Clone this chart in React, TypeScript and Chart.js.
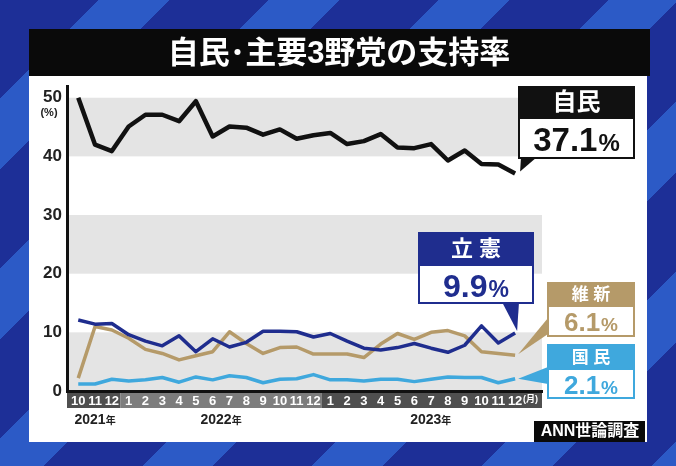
import React, { useEffect, useRef } from "react";
import { Chart, registerables } from "chart.js";

Chart.register(...registerables);

const TITLE = "自民･主要3野党の支持率";
const SOURCE = "ANN世論調査";
const UNIT = "(%)";
const MONTH_UNIT = "(月)";

const months = ["10", "11", "12", "1", "2", "3", "4", "5", "6", "7", "8", "9", "10", "11", "12", "1", "2", "3", "4", "5", "6", "7", "8", "9", "10", "11", "12"];
const years = ["2021", "2022", "2023"];
const yearSuffix = "年";
const yearMonthCounts = [3, 12, 12];
const yTicks = [0, 10, 20, 30, 40, 50];

const ldp = [50.0, 42.0, 40.9, 45.1, 47.1, 47.1, 46.0, 49.4, 43.4, 45.1, 44.9, 43.7, 44.6, 43.0, 43.6, 44.0, 42.1, 42.6, 43.8, 41.5, 41.4, 42.1, 39.3, 41.0, 38.7, 38.6, 37.1];
const cdp = [12.1, 11.4, 11.5, 9.6, 8.5, 7.7, 9.4, 6.7, 8.9, 7.5, 8.3, 10.2, 10.2, 10.1, 9.2, 9.8, 8.5, 7.3, 7.0, 7.4, 8.1, 7.3, 6.6, 7.8, 11.1, 8.2, 9.9];
const ishin = [2.2, 11.0, 10.4, 9.0, 7.1, 6.4, 5.3, 6.0, 6.7, 10.1, 8.1, 6.4, 7.4, 7.5, 6.3, 6.3, 6.3, 5.7, 8.0, 9.8, 8.8, 10.0, 10.3, 9.4, 6.7, 6.4, 6.1];
const dpfp = [1.2, 1.2, 2.0, 1.7, 1.9, 2.3, 1.5, 2.4, 1.9, 2.6, 2.3, 1.4, 2.0, 2.1, 2.8, 1.9, 1.9, 1.7, 2.0, 2.0, 1.6, 2.0, 2.4, 2.3, 2.3, 1.4, 2.1];

const partyNames = ["自民", "立憲", "維新", "国民"];
const partyHeaderTexts = ["自民", "立 憲", "維 新", "国 民"];

const FONT = "'Liberation Sans', 'Noto Sans CJK JP', sans-serif";
const C_LDP = "#111111";
const C_CDP = "#1f2d8e";
const C_ISHIN = "#b59a69";
const C_DPFP = "#3fa8dd";
const BAND = "#e4e4e4";

const toXY = (arr: number[]) => arr.map((v, i) => ({ x: i, y: v }));

function drawValue(ctx: CanvasRenderingContext2D, num: string, cx: number, cy: number, numSize: number, pctSize: number, color: string) {
  ctx.font = `bold ${numSize}px ${FONT}`;
  const w1 = ctx.measureText(num).width;
  ctx.font = `bold ${pctSize}px ${FONT}`;
  const w2 = ctx.measureText("%").width;
  const total = w1 + w2 + 1;
  const sx = cx - total / 2;
  const base = cy + numSize * 0.36;
  ctx.fillStyle = color;
  ctx.textAlign = "left";
  ctx.textBaseline = "alphabetic";
  ctx.font = `bold ${numSize}px ${FONT}`;
  ctx.fillText(num, sx, base);
  ctx.font = `bold ${pctSize}px ${FONT}`;
  ctx.fillText("%", sx + w1 + 1, base);
}

function drawCallout(
  ctx: CanvasRenderingContext2D,
  box: { x: number; y: number; w: number; hh: number; vh: number },
  color: string,
  header: string,
  headerSize: number,
  value: string,
  numSize: number,
  pctSize: number,
  valueColor: string
) {
  ctx.fillStyle = color;
  ctx.fillRect(box.x, box.y, box.w, box.hh);
  ctx.fillStyle = "#fff";
  ctx.fillRect(box.x, box.y + box.hh, box.w, box.vh);
  ctx.strokeStyle = color;
  ctx.lineWidth = 2;
  ctx.strokeRect(box.x + 1, box.y + 1, box.w - 2, box.hh + box.vh - 2);
  ctx.fillStyle = "#fff";
  ctx.font = `bold ${headerSize}px ${FONT}`;
  ctx.textAlign = "center";
  ctx.textBaseline = "middle";
  ctx.fillText(header, box.x + box.w / 2, box.y + box.hh / 2 + 1);
  drawValue(ctx, value, box.x + box.w / 2, box.y + box.hh + box.vh / 2, numSize, pctSize, valueColor);
}

function tri(ctx: CanvasRenderingContext2D, pts: number[][], color: string) {
  ctx.fillStyle = color;
  ctx.beginPath();
  ctx.moveTo(pts[0][0], pts[0][1]);
  for (let i = 1; i < pts.length; i++) ctx.lineTo(pts[i][0], pts[i][1]);
  ctx.closePath();
  ctx.fill();
}

const decorPlugin = {
  id: "decor",
  beforeDraw(chart: any) {
    const ctx: CanvasRenderingContext2D = chart.ctx;
    const { left, right, bottom } = chart.chartArea;
    const xs = chart.scales.x;
    const ys = chart.scales.y;
    ctx.save();
    // white panel
    ctx.fillStyle = "#ffffff";
    ctx.fillRect(29, 75, 618, 367);
    // title bar
    ctx.fillStyle = "#0a0a0a";
    ctx.fillRect(29, 29, 621, 47);
    ctx.fillStyle = "#ffffff";
    ctx.font = `bold 31px ${FONT}`;
    ctx.textAlign = "center";
    ctx.textBaseline = "middle";
    ctx.fillText(TITLE, 339, 54);
    // gray bands
    [[0, 10], [20, 30], [40, 50]].forEach(([a, b]) => {
      const y0 = ys.getPixelForValue(b);
      const y1 = ys.getPixelForValue(a);
      ctx.fillStyle = BAND;
      ctx.fillRect(left, y0, right - left, y1 - y0);
    });
    // x label band
    let start = 0;
    yearMonthCounts.forEach((n, gi) => {
      const x0 = gi === 0 ? left : xs.getPixelForValue(start - 0.5);
      const x1 = gi === yearMonthCounts.length - 1 ? right : xs.getPixelForValue(start + n - 0.5);
      ctx.fillStyle = gi === 1 ? "#7d7d7d" : "#4f4f4f";
      ctx.fillRect(x0, bottom, x1 - x0, 17);
      start += n;
    });
    ctx.restore();
  },
  afterDatasetsDraw(chart: any) {
    const ctx: CanvasRenderingContext2D = chart.ctx;
    const xs = chart.scales.x;
    const ys = chart.scales.y;
    const { bottom } = chart.chartArea;
    const lastI = months.length - 1;
    const px = xs.getPixelForValue(lastI);
    ctx.save();

    // (%) unit
    ctx.fillStyle = "#222";
    ctx.font = `bold 11px ${FONT}`;
    ctx.textAlign = "center";
    ctx.textBaseline = "middle";
    ctx.fillText(UNIT, 49, 113);

    // (月)
    ctx.fillStyle = "#fff";
    ctx.font = `bold 9px ${FONT}`;
    ctx.textAlign = "left";
    ctx.fillText(MONTH_UNIT, px + 8, bottom + 9);

    // year labels
    let start = 0;
    yearMonthCounts.forEach((n, gi) => {
      const cx = (xs.getPixelForValue(start) + xs.getPixelForValue(start + n - 1)) / 2 + (gi === 2 ? 8 : 0);
      ctx.font = `bold 14px ${FONT}`;
      const w1 = ctx.measureText(years[gi]).width;
      ctx.font = `bold 10px ${FONT}`;
      const w2 = ctx.measureText(yearSuffix).width;
      const sx = cx - (w1 + w2) / 2;
      ctx.fillStyle = "#222";
      ctx.textBaseline = "alphabetic";
      ctx.textAlign = "left";
      ctx.font = `bold 14px ${FONT}`;
      ctx.fillText(years[gi], sx, 424);
      ctx.font = `bold 10px ${FONT}`;
      ctx.fillText(yearSuffix, sx + w1, 424);
      start += n;
    });

    // pointers
    const pLdp = ys.getPixelForValue(ldp[lastI]);
    const pCdp = ys.getPixelForValue(cdp[lastI]);
    const pIshin = ys.getPixelForValue(ishin[lastI]);
    const pDpfp = ys.getPixelForValue(dpfp[lastI]);
    tri(ctx, [[521, 157], [537, 157], [px + 5, pLdp - 2]], C_LDP);
    tri(ctx, [[502, 302], [519, 302], [px + 2, pCdp - 2]], C_CDP);
    tri(ctx, [[px + 3, pIshin - 1], [548, 318], [548, 334]], C_ISHIN);
    tri(ctx, [[px + 3, pDpfp], [548, 367], [548, 384]], C_DPFP);

    // callouts
    drawCallout(ctx, { x: 518, y: 86, w: 117, hh: 33, vh: 40 }, C_LDP, partyHeaderTexts[0], 24, ldp[lastI].toFixed(1), 33, 24, "#111");
    drawCallout(ctx, { x: 418, y: 232, w: 116, hh: 34, vh: 38 }, C_CDP, partyHeaderTexts[1], 22, cdp[lastI].toFixed(1), 32, 23, C_CDP);
    drawCallout(ctx, { x: 547, y: 282, w: 88, hh: 25, vh: 30 }, C_ISHIN, partyHeaderTexts[2], 17, ishin[lastI].toFixed(1), 26, 19, C_ISHIN);
    drawCallout(ctx, { x: 547, y: 344, w: 88, hh: 26, vh: 29 }, C_DPFP, partyHeaderTexts[3], 17, dpfp[lastI].toFixed(1), 26, 19, C_DPFP);

    // source box
    ctx.fillStyle = "#0a0a0a";
    ctx.fillRect(534, 421, 111, 21);
    ctx.fillStyle = "#fff";
    ctx.font = `bold 16px ${FONT}`;
    ctx.textAlign = "center";
    ctx.textBaseline = "middle";
    ctx.fillText(SOURCE, 590, 432);
    ctx.restore();
  },
};

export default function App() {
  const ref = useRef<HTMLCanvasElement | null>(null);
  useEffect(() => {
    if (!ref.current) return;
    const chart = new Chart(ref.current, {
      type: "line",
      data: {
        datasets: [
          { label: partyNames[0], data: toXY(ldp), borderColor: C_LDP, borderWidth: 4.5, pointRadius: 0, tension: 0, borderJoinStyle: "round" },
          { label: partyNames[1], data: toXY(cdp), borderColor: C_CDP, borderWidth: 3.5, pointRadius: 0, tension: 0, borderJoinStyle: "round" },
          { label: partyNames[2], data: toXY(ishin), borderColor: C_ISHIN, borderWidth: 3.5, pointRadius: 0, tension: 0, borderJoinStyle: "round" },
          { label: partyNames[3], data: toXY(dpfp), borderColor: C_DPFP, borderWidth: 3.5, pointRadius: 0, tension: 0, borderJoinStyle: "round" },
        ],
      } as any,
      options: {
        responsive: false,
        animation: false,
        devicePixelRatio: 1,
        layout: { padding: { left: 30, top: 86, right: 134, bottom: 55 } },
        plugins: { legend: { display: false }, tooltip: { enabled: false }, title: { display: false } },
        scales: {
          x: {
            type: "linear",
            min: -0.67,
            max: 27.6,
            afterBuildTicks: (s: any) => {
              s.ticks = months.map((_, i) => ({ value: i }));
            },
            afterFit: (s: any) => {
              s.height = 20;
            },
            grid: { display: false, drawTicks: false },
            border: { display: true, color: "#111", width: 3 },
            ticks: {
              callback: (v: any) => months[v],
              color: "#ffffff",
              font: { family: FONT, size: 13, weight: "bold" },
              padding: 3,
              autoSkip: false,
              maxRotation: 0,
              minRotation: 0,
            },
          },
          y: {
            min: 0,
            max: 52,
            afterBuildTicks: (s: any) => {
              s.ticks = yTicks.map((v) => ({ value: v }));
            },
            afterFit: (s: any) => {
              s.width = 37;
            },
            grid: { display: false, drawTicks: false },
            border: { display: true, color: "#111", width: 3 },
            ticks: { color: "#222", font: { family: FONT, size: 17, weight: "bold" }, padding: 5 },
          },
        },
      } as any,
      plugins: [decorPlugin],
    });
    return () => chart.destroy();
  }, []);
  return (
    <div
      style={{
        position: "fixed",
        left: 0,
        top: 0,
        width: 676,
        height: 466,
        background: "repeating-linear-gradient(135deg, #1d2f97 0px, #1d2f97 70px, #2c5ac6 70px, #2c5ac6 120px)",
      }}
    >
      <canvas ref={ref} width={676} height={466} style={{ display: "block" }} />
    </div>
  );
}
